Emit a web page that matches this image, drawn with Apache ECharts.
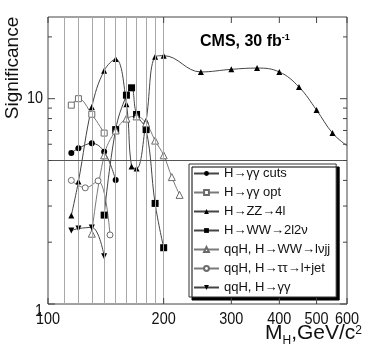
<!DOCTYPE html>
<html>
<head>
<meta charset="UTF-8">
<title>CMS Higgs discovery significance</title>
<script src="https://cdn.jsdelivr.net/npm/echarts@6/dist/echarts.min.js"></script>
<style>
    html, body { margin: 0; padding: 0; background: #fff; }
    #chart { width: 365px; height: 351px; }
</style>
</head>
<body>
<div id="chart"></div>
<script>
    // Higgs mass points (GeV/c^2) and significance
    const massGgCuts = [115, 120, 130, 140, 150];
    const sigGgCuts = [5.44, 5.73, 6.06, 5.52, 4.02];

    const massGgOpt = [115, 120, 130, 140];
    const sigGgOpt = [9.3, 10.0, 8.4, 6.8];

    const massZZ = [115, 120, 130, 140, 150, 160, 165, 170, 180, 190, 200, 250, 300, 350, 400, 450, 500, 550, 600];
    const sigZZ = [2.7, 3.95, 9.1, 13.7, 15.6, 9.4, 4.68, 4.57, 7.8, 16.0, 16.2, 13.5, 13.9, 14.1, 13.5, 11.4, 8.8, 6.8, 5.9];

    const massWW = [140, 150, 160, 165, 170, 180, 190, 200];
    const sigWW = [2.71, 7.07, 10.4, 11.3, 8.38, 7.07, 3.09, 1.88];

    const massLvjj = [130, 140, 150, 160, 170, 180, 190, 200, 210, 220];
    const sigLvjj = [2.2, 5.3, 7.0, 8.0, 8.2, 7.6, 6.25, 5.3, 4.15, 3.4];

    const massTauTau = [115, 125, 135, 145];
    const sigTauTau = [4.0, 3.68, 3.98, 2.17];

    const massQqGg = [115, 120, 130, 140];
    const sigQqGg = [2.28, 2.33, 2.36, 1.71];

    // axis decoration
    const gridMasses = [110, 120, 130, 140, 150, 160, 170, 180, 190, 200];
    const thresholdSig = 5;
    const xTickValues = [100, 200, 300, 400, 500, 600];
    const yMajorTicks = [1, 10];
    const yMinorTicks = [2, 3, 4, 5, 6, 7, 8, 9, 20];

    const X_MIN = 100, X_MAX = 600, Y_MIN = 1, Y_MAX = 25;
    const FONT = "'Liberation Sans', Arial, Helvetica, sans-serif";

    const names = [
        'H\u2192\u03b3\u03b3 cuts',
        'H\u2192\u03b3\u03b3 opt',
        'H\u2192ZZ\u21924l',
        'H\u2192WW\u21922l2\u03bd',
        'qqH, H\u2192WW\u2192l\u03bdjj',
        'qqH, H\u2192\u03c4\u03c4\u2192l+jet',
        'qqH, H\u2192\u03b3\u03b3'
    ];

    // points sitting on the right frame keep the curve but no marker
    function zip(xs, ys) {
        return xs.map(function (x, i) {
            return x >= X_MAX ? {value: [x, ys[i]], symbol: 'none'} : [x, ys[i]];
        });
    }

    function lineSeries(name, xs, ys, symbol, filled, extra) {
        return Object.assign({
            name: name,
            type: 'line',
            data: zip(xs, ys),
            smooth: 0.4,
            symbol: symbol,
            symbolSize: 6,
            showSymbol: true,
            lineStyle: {color: filled ? '#444' : '#7a7a7a', width: 1},
            itemStyle: filled
                ? {color: '#000'}
                : {color: '#fff', borderColor: '#6a6a6a', borderWidth: 1},
            z: 3,
            silent: true
        }, extra || {});
    }

    function txt(text, x, y, align, vAlign, size, sx) {
        return {
            type: 'text', x: x, y: y, scaleX: sx || 1,
            style: {
                text: text, fill: '#111', fontSize: size, fontFamily: FONT,
                align: align, textAlign: align, verticalAlign: vAlign, textVerticalAlign: vAlign
            }
        };
    }

    // ticks + labels on the log x axis (bottom and top)
    function renderXTicks(params, api) {
        const r = params.coordSys;
        const p = api.coord([api.value(0), Y_MIN]);
        const bottom = r.y + r.height, top = r.y;
        const st = {stroke: '#444', lineWidth: 1};
        return {
            type: 'group',
            children: [
                {type: 'line', shape: {x1: p[0], y1: bottom, x2: p[0], y2: bottom - 6}, style: st},
                {type: 'line', shape: {x1: p[0], y1: top, x2: p[0], y2: top + 6}, style: st},
                txt(String(api.value(0)), p[0], bottom + 15, 'center', 'middle', 17, 0.85)
            ]
        };
    }

    // ticks + labels on the log y axis (left and right)
    function renderYTicks(params, api) {
        const r = params.coordSys;
        const v = api.value(1);
        const major = api.value(2) === 1;
        const p = api.coord([X_MIN, v]);
        const len = major ? 7 : 4;
        const left = r.x, right = r.x + r.width;
        const st = {stroke: '#444', lineWidth: 1};
        const kids = [
            {type: 'line', shape: {x1: left, y1: p[1], x2: left + len, y2: p[1]}, style: st},
            {type: 'line', shape: {x1: right, y1: p[1], x2: right - len, y2: p[1]}, style: st}
        ];
        if (major) {
            kids.push(txt(String(v), left - 5, p[1] + (v === Y_MIN ? 7 : 0), 'right', 'middle', 17, 0.85));
        }
        return {type: 'group', children: kids};
    }

    const chart = echarts.init(document.getElementById('chart'));

    const yTickData = yMajorTicks.map(function (v) { return [X_MIN, v, 1]; })
        .concat(yMinorTicks.map(function (v) { return [X_MIN, v, 0]; }));

    const option = {
        animation: false,
        grid: {
            left: 48, right: 18, top: 17, bottom: 47,
            show: true, borderColor: '#444', borderWidth: 1
        },
        xAxis: {
            type: 'log', logBase: 10, min: X_MIN, max: X_MAX,
            axisLine: {show: false}, axisTick: {show: false},
            axisLabel: {show: false}, splitLine: {show: false}
        },
        yAxis: {
            type: 'log', logBase: 10, min: Y_MIN, max: Y_MAX,
            axisLine: {show: false}, axisTick: {show: false},
            axisLabel: {show: false}, splitLine: {show: false}
        },
        legend: {
            data: names,
            orient: 'vertical',
            left: 189, top: 164,
            padding: [3, 6, 3, 4],
            itemWidth: 25, itemHeight: 6, itemGap: 6,
            backgroundColor: '#fff',
            borderColor: '#333', borderWidth: 1,
            shadowColor: '#000', shadowBlur: 0.1, shadowOffsetX: 3, shadowOffsetY: 3,
            selectedMode: false,
            textStyle: {fontFamily: FONT, fontSize: 13, color: '#111'}
        },
        graphic: [
            {
                type: 'text', left: 200, top: 33,
                style: {
                    text: '{b|CMS, 30 fb}{p|-1}',
                    fill: '#000',
                    rich: {
                        b: {fontFamily: FONT, fontSize: 16, fontWeight: 'bold', fill: '#000', lineHeight: 18},
                        p: {fontFamily: FONT, fontSize: 9, fontWeight: 'bold', fill: '#000', verticalAlign: 'top', lineHeight: 9}
                    }
                }
            },
            {
                type: 'text', x: 13, y: 68, rotation: Math.PI / 2,
                style: {
                    text: 'Significance', fill: '#111', fontFamily: FONT, fontSize: 19,
                    align: 'center', textAlign: 'center', verticalAlign: 'middle', textVerticalAlign: 'middle'
                }
            },
            {
                type: 'text', right: 3, top: 323,
                style: {
                    text: '{m|M}{s|H}{m|,GeV/c}{p|2}',
                    fill: '#111',
                    rich: {
                        m: {fontFamily: FONT, fontSize: 21, fill: '#111', verticalAlign: 'top'},
                        s: {fontFamily: FONT, fontSize: 12, fill: '#111', verticalAlign: 'bottom', lineHeight: 24},
                        p: {fontFamily: FONT, fontSize: 12, fill: '#111', verticalAlign: 'top', padding: [2, 0, 0, 0]}
                    }
                }
            }
        ],
        series: [
            lineSeries(names[0], massGgCuts, sigGgCuts, 'circle', true, {
                markLine: {
                    silent: true,
                    symbol: ['none', 'none'],
                    label: {show: false},
                    lineStyle: {type: 'solid', width: 1},
                    data: gridMasses.map(function (m) {
                        return {xAxis: m, lineStyle: {color: '#a8a8a8', type: 'solid', width: 1}};
                    }).concat([{yAxis: thresholdSig, lineStyle: {color: '#555', type: 'solid', width: 1}}])
                }
            }),
            lineSeries(names[1], massGgOpt, sigGgOpt, 'rect', false),
            lineSeries(names[2], massZZ, sigZZ, 'triangle', true),
            lineSeries(names[3], massWW, sigWW, 'rect', true, {symbolSize: 7}),
            lineSeries(names[4], massLvjj, sigLvjj, 'triangle', false, {symbolSize: 7}),
            lineSeries(names[5], massTauTau, sigTauTau, 'circle', false),
            lineSeries(names[6], massQqGg, sigQqGg, 'triangle', true, {symbolRotate: 180}),
            {
                type: 'custom', name: 'xTicks', silent: true, z: 5,
                data: xTickValues.map(function (m) { return [m, Y_MIN]; }),
                renderItem: renderXTicks
            },
            {
                type: 'custom', name: 'yTicks', silent: true, z: 5,
                data: yTickData,
                renderItem: renderYTicks
            }
        ]
    };

    chart.setOption(option);
    window.addEventListener('resize', function () { chart.resize(); });
</script>
</body>
</html>
